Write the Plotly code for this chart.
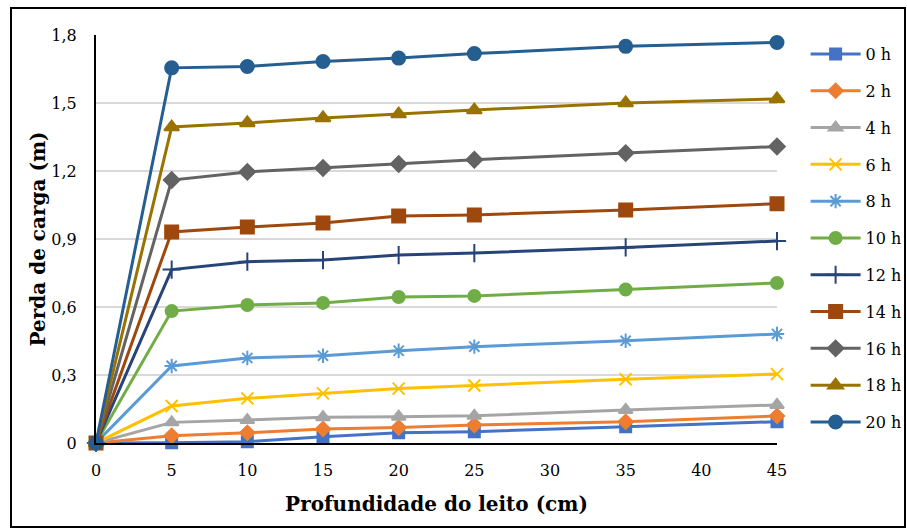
import plotly.graph_objects as go

depth = [0, 5, 10, 15, 20, 25, 35, 45]
series_names = ["0 h", "2 h", "4 h", "6 h", "8 h", "10 h", "12 h", "14 h", "16 h", "18 h", "20 h"]
h0 = [0, 0.001, 0.006, 0.028, 0.045, 0.050, 0.072, 0.094]
h2 = [0, 0.032, 0.045, 0.062, 0.068, 0.079, 0.094, 0.119]
h4 = [0, 0.091, 0.101, 0.114, 0.116, 0.120, 0.146, 0.168]
h6 = [0, 0.163, 0.197, 0.219, 0.240, 0.254, 0.281, 0.304]
h8 = [0, 0.340, 0.375, 0.385, 0.407, 0.425, 0.451, 0.481]
h10 = [0, 0.582, 0.609, 0.618, 0.644, 0.649, 0.677, 0.706]
h12 = [0, 0.765, 0.800, 0.807, 0.829, 0.838, 0.863, 0.891]
h14 = [0, 0.931, 0.953, 0.971, 1.001, 1.006, 1.028, 1.056]
h16 = [0, 1.160, 1.196, 1.213, 1.231, 1.250, 1.279, 1.308]
h18 = [0, 1.394, 1.412, 1.434, 1.451, 1.469, 1.500, 1.518]
h20 = [0, 1.655, 1.661, 1.683, 1.698, 1.718, 1.750, 1.767]
values = [h0, h2, h4, h6, h8, h10, h12, h14, h16, h18, h20]

y_tickvals = [0, 0.3, 0.6, 0.9, 1.2, 1.5, 1.8]
y_ticktext = ["0", "0,3", "0,6", "0,9", "1,2", "1,5", "1,8"]
x_tickvals = [0, 5, 10, 15, 20, 25, 30, 35, 40, 45]

colors = ["#4472C4", "#ED7D31", "#A5A5A5", "#FFC000", "#5B9BD5", "#70AD47",
          "#264478", "#9E480E", "#636363", "#997300", "#255E91"]
symbols = ["square", "diamond", "triangle-up", "x-thin-open", "asterisk-open", "circle",
           "cross-thin-open", "square", "diamond", "triangle-up", "circle"]
sizes = [11, 11, 12, 12, 12, 12, 13, 13, 12, 13, 13]

fig = go.Figure()
for name, vals, c, s, sz in zip(series_names, values, colors, symbols, sizes):
    fig.add_trace(go.Scatter(
        x=depth, y=vals, name=name, mode="lines+markers", legendgroup=name,
        line=dict(color=c, width=3),
        marker=dict(symbol=s, size=sz, color=c, line=dict(color=c, width=2)),
        cliponaxis=False,
    ))

FONT = "DejaVu Serif"
fig.update_layout(
    width=907, height=530,
    margin=dict(l=96, r=130, t=35, b=87, autoexpand=False),
    paper_bgcolor="white", plot_bgcolor="white",
    font=dict(family=FONT, size=16, color="black"),
    showlegend=True,
    legend=dict(x=1.042, y=0.995, xanchor="left", yanchor="top",
                font=dict(family=FONT, size=16, color="black"),
                tracegroupgap=13, itemwidth=50, bgcolor="rgba(0,0,0,0)",
                maxheight=520),
    xaxis=dict(range=[0, 45], tickvals=x_tickvals, showgrid=False, zeroline=False,
               showline=True, linecolor="black", linewidth=2, ticks="",
               automargin=False, ticklabelstandoff=12,
               tickfont=dict(family=FONT, size=16),
               title=dict(text="<b>Profundidade do leito (cm)</b>",
                          font=dict(family=FONT, size=20), standoff=18)),
    yaxis=dict(range=[0, 1.8], tickvals=y_tickvals, ticktext=y_ticktext,
               showgrid=True, gridcolor="#D9D9D9", gridwidth=1.5, zeroline=False,
               showline=True, linecolor="black", linewidth=2, ticks="",
               automargin=False, ticklabelstandoff=14,
               tickfont=dict(family=FONT, size=16),
               title=dict(text="<b>Perda de carga (m)</b>",
                          font=dict(family=FONT, size=20), standoff=0)),
    shapes=[dict(type="rect", xref="paper", yref="paper",
                 x0=(11 - 96) / 681, x1=(905 - 96) / 681,
                 y0=(443 - 527) / 408, y1=(443 - 8) / 408,
                 line=dict(color="black", width=2), fillcolor="rgba(0,0,0,0)", layer="below")],
)

fig.write_html("out.html", config={"displayModeBar": False},
               post_script="document.body.style.margin='0';document.body.style.padding='0';document.body.style.overflow='hidden';")
